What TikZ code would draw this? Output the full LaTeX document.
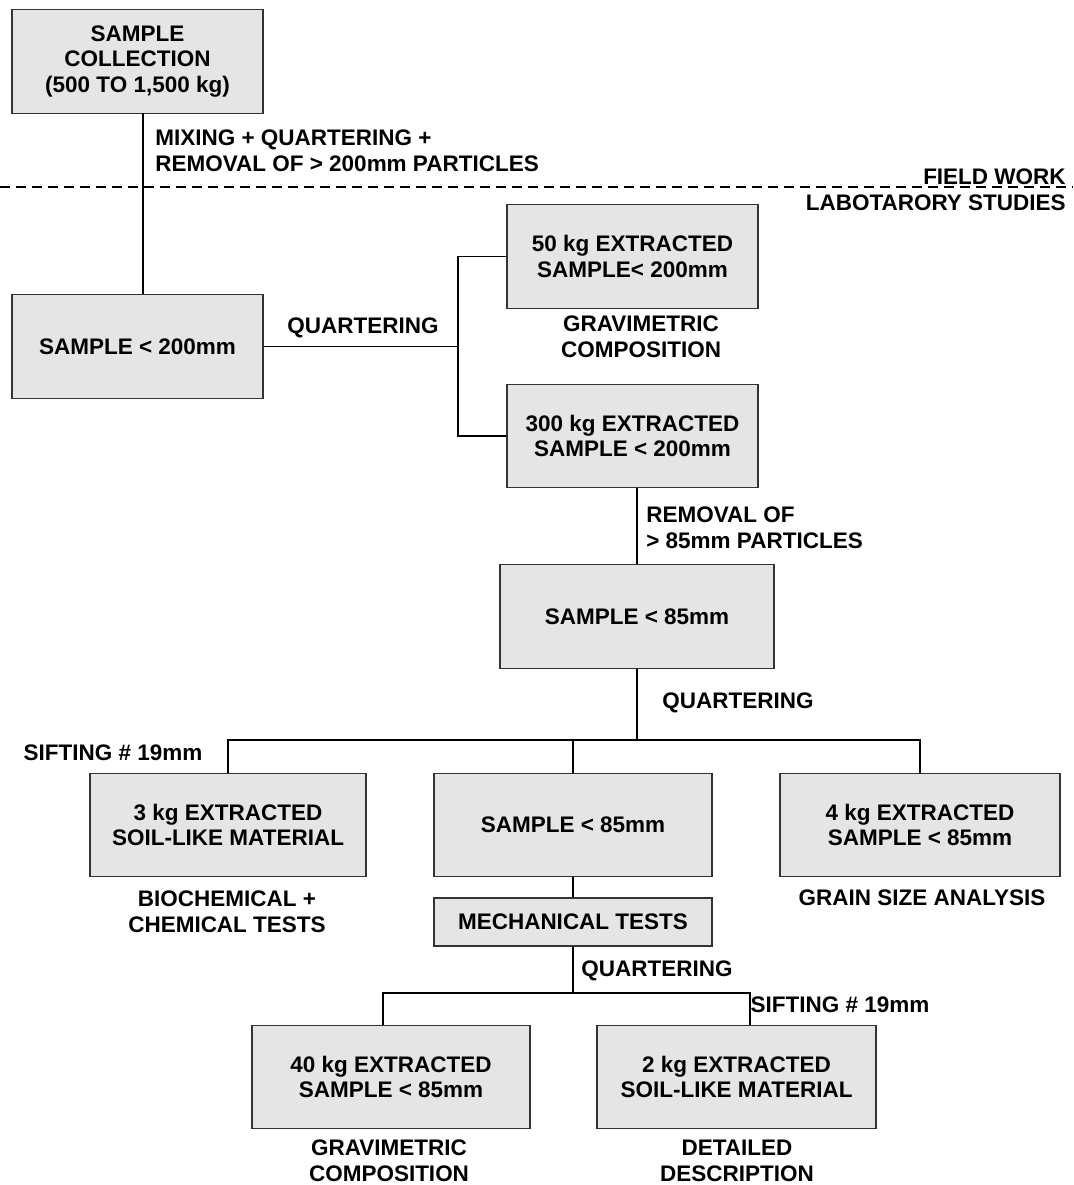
\documentclass[tikz,border=0pt]{standalone}
\usepackage{fontspec}
\setmainfont{Liberation Sans}
\usepackage{tikz}
\usetikzlibrary{positioning}
\newcommand{\flowfont}{\bfseries\fontsize{12.8}{14.6}\selectfont}
\tikzstyle{stage}=[rectangle, draw=black!80, fill=black!10, line width=0.8pt,
        text centered, align=center, minimum height=2.07cm, font=\flowfont]
\tikzstyle{note}=[align=center, inner sep=0pt, font=\flowfont]
\tikzstyle{link}=[draw=black, line width=1.1pt]
\tikzstyle{boundary}=[draw=black, line width=0.9pt, dash pattern=on 0.2cm off 0.12cm]

\begin{document}
\begin{tikzpicture}[x=0.02cm, y=-0.02cm]
        \useasboundingbox (0,0) rectangle (1073,1185);
        % field work part
        \node (collect) [stage, minimum width=5.02cm] at (137.5,61.5)
        {SAMPLE\\COLLECTION\\(500 TO 1,500 kg)};
        \node (prep) [note, anchor=west, align=left] at (155,151)
        {MIXING + QUARTERING +\\REMOVAL OF > 200mm PARTICLES};
        \draw[boundary] (0,187) -- (1073,187);
        \node (field) [note, anchor=base east] at (1066,185) {FIELD WORK};
        \node (lab) [note, anchor=base east] at (1066,211) {LABOTARORY STUDIES};
        % first quartering
        \node (sample200) [stage, minimum width=5.02cm] at (137.5,346.5) {SAMPLE < 200mm};
        \node (extract50) [stage, minimum width=5.02cm] at (632.5,256.5)
        {50 kg EXTRACTED\\SAMPLE< 200mm};
        \node (extract300) [stage, minimum width=5.02cm] at (632.5,436)
        {300 kg EXTRACTED\\SAMPLE < 200mm};
        \node (grav1) [note] at (641,337) {GRAVIMETRIC\\COMPOSITION};
        \node (quart1) [note] at (363,328) {QUARTERING};
        \coordinate (down1) at (143,113);
        \coordinate (split1) at (458,346.5);
        \draw[link] (down1) -- (down1 |- sample200.north);
        \draw[link] (sample200.east) -- (split1);
        \draw[link] (extract50.west) -- (extract50.west -| split1)
          -- (extract300.west -| split1) -- (extract300.west);
        % sample below 85mm
        \node (sample85) [stage, minimum width=5.48cm] at (637,616.5) {SAMPLE < 85mm};
        \node (remove85) [note, anchor=west, align=left] at (646,528)
        {REMOVAL OF\\> 85mm PARTICLES};
        \draw[link] (extract300.south -| sample85) -- (sample85.north);
        % second quartering
        \node (soil3) [stage, minimum width=5.52cm] at (228,825)
        {3 kg EXTRACTED\\SOIL-LIKE MATERIAL};
        \node (sample85b) [stage, minimum width=5.56cm] at (573,825) {SAMPLE < 85mm};
        \node (grain4) [stage, minimum width=5.6cm] at (920,825)
        {4 kg EXTRACTED\\SAMPLE < 85mm};
        \node (quart2) [note] at (738,703) {QUARTERING};
        \node (sift1) [note] at (113,753) {SIFTING \# 19mm};
        \node (biochem) [note] at (227,912) {BIOCHEMICAL +\\CHEMICAL TESTS};
        \node (grainsize) [note] at (922,898) {GRAIN SIZE ANALYSIS};
        \coordinate (split2) at (637,740);
        \draw[link] (sample85.south) -- (split2);
        \draw[link] (soil3.north) -- (soil3.north |- split2) -- (grain4.north |- split2)
          -- (grain4.north);
        \draw[link] (sample85b.north) -- (sample85b.north |- split2);
        % mechanical tests
        \node (mech) [stage, minimum width=5.56cm, minimum height=0.96cm] at (573,922)
        {MECHANICAL TESTS};
        \draw[link] (sample85b.south) -- (mech.north);
        % third quartering
        \node (extract40) [stage, minimum width=5.56cm] at (391,1077)
        {40 kg EXTRACTED\\SAMPLE < 85mm};
        \node (soil2) [stage, minimum width=5.58cm] at (736.5,1077)
        {2 kg EXTRACTED\\SOIL-LIKE MATERIAL};
        \node (quart3) [note] at (657,971) {QUARTERING};
        \node (sift2) [note] at (840,1005) {SIFTING \# 19mm};
        \node (grav2) [note] at (389,1161) {GRAVIMETRIC\\COMPOSITION};
        \node (detail) [note] at (737,1161) {DETAILED\\DESCRIPTION};
        \coordinate (split3) at (573,993);
        \coordinate (left3) at (383,993);
        \coordinate (right3) at (750,993);
        \draw[link] (mech.south) -- (split3);
        \draw[link] (left3 |- extract40.north) -- (left3) -- (right3)
          -- (right3 |- soil2.north);
\end{tikzpicture}
\end{document}
